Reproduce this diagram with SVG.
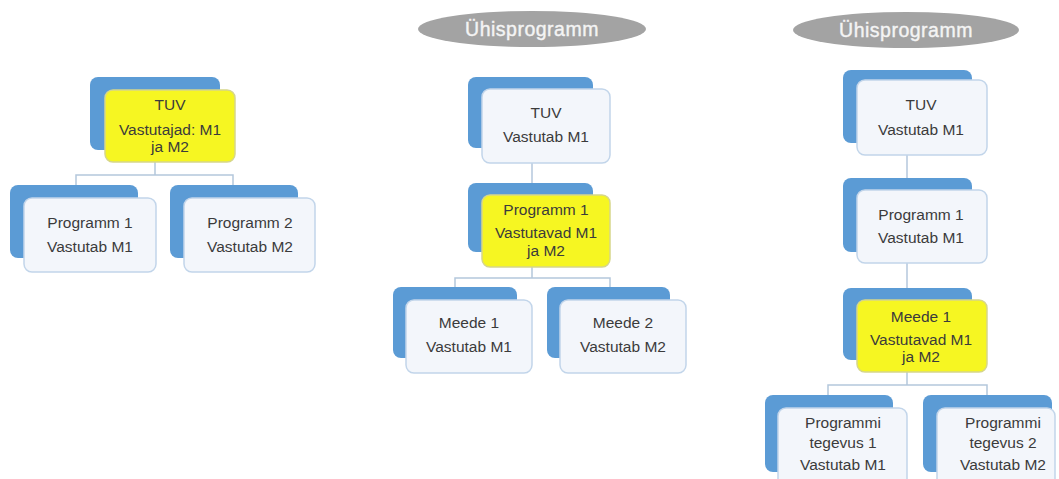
<svg xmlns="http://www.w3.org/2000/svg" width="1059" height="479" viewBox="0 0 1059 479">
  <style>
    .back { fill: #5b9bd5; }
    .front { fill: #f3f6fb; stroke: #c2d5ea; stroke-width: 1.5; }
    .hl { fill: #f6f622; stroke: #d6d68a; stroke-width: 1.5; }
    .lbl { font-family: "Liberation Sans", Arial, sans-serif; font-size: 15.5px; fill: #3b3b3b; text-anchor: middle; }
    .pill { fill: #a3a3a3; }
    .pilltxt { font-family: "Liberation Sans", Arial, sans-serif; font-size: 19.5px; fill: #f4f4f4; text-anchor: middle; letter-spacing: 0.5px; stroke: #f4f4f4; stroke-width: 0.4; }
    .conn { fill: none; stroke: #b4c7dc; stroke-width: 1.5; }
  </style>
  <rect width="1059" height="479" fill="#ffffff"/>

  <!-- connectors -->
  <g id="connectors">
    <path class="conn" d="M155 162 V175 M76 185 V175 H233 V185"/>
    <path class="conn" d="M532 163 V183"/>
    <path class="conn" d="M532 267 V278 M455 287 V278 H610 V287"/>
    <path class="conn" d="M907 155 V178"/>
    <path class="conn" d="M907 263 V288"/>
    <path class="conn" d="M907 372 V385 M828 395 V385 H987 V395"/>
  </g>

  <!-- left tree -->
  <g id="l-tuv">
    <rect class="back" x="90" y="77" width="130" height="73" rx="8"/>
    <rect class="hl" x="105" y="90" width="130" height="72" rx="8"/>
    <text class="lbl" x="170" y="110">TUV</text>
    <text class="lbl" x="170" y="135">Vastutajad: M1</text>
    <text class="lbl" x="170" y="152">ja M2</text>
  </g>
  <g id="l-prog1">
    <rect class="back" x="10" y="185" width="128" height="73" rx="8"/>
    <rect class="front" x="24" y="198" width="132" height="74" rx="8"/>
    <text class="lbl" x="90" y="228">Programm 1</text>
    <text class="lbl" x="90" y="252">Vastutab M1</text>
  </g>
  <g id="l-prog2">
    <rect class="back" x="170" y="185" width="128" height="73" rx="8"/>
    <rect class="front" x="184" y="198" width="131" height="74" rx="8"/>
    <text class="lbl" x="250" y="228">Programm 2</text>
    <text class="lbl" x="250" y="252">Vastutab M2</text>
  </g>

  <!-- middle tree -->
  <g id="m-header">
    <ellipse class="pill" cx="532" cy="29" rx="114" ry="18"/>
    <text class="pilltxt" x="532" y="36">Ühisprogramm</text>
  </g>
  <g id="m-tuv">
    <rect class="back" x="468" y="77" width="125" height="71" rx="8"/>
    <rect class="front" x="482" y="89" width="128" height="74" rx="8"/>
    <text class="lbl" x="546" y="118">TUV</text>
    <text class="lbl" x="546" y="142">Vastutab M1</text>
  </g>
  <g id="m-prog1">
    <rect class="back" x="468" y="183" width="125" height="69" rx="8"/>
    <rect class="hl" x="482" y="195" width="128" height="72" rx="8"/>
    <text class="lbl" x="546" y="215">Programm 1</text>
    <text class="lbl" x="546" y="238">Vastutavad M1</text>
    <text class="lbl" x="546" y="256">ja M2</text>
  </g>
  <g id="m-meede1">
    <rect class="back" x="393" y="287" width="124" height="71" rx="8"/>
    <rect class="front" x="406" y="300" width="126" height="73" rx="8"/>
    <text class="lbl" x="469" y="328">Meede 1</text>
    <text class="lbl" x="469" y="352">Vastutab M1</text>
  </g>
  <g id="m-meede2">
    <rect class="back" x="547" y="287" width="123" height="71" rx="8"/>
    <rect class="front" x="560" y="300" width="126" height="73" rx="8"/>
    <text class="lbl" x="623" y="328">Meede 2</text>
    <text class="lbl" x="623" y="352">Vastutab M2</text>
  </g>

  <!-- right tree -->
  <g id="r-header">
    <ellipse class="pill" cx="906" cy="30" rx="113" ry="18"/>
    <text class="pilltxt" x="906" y="37">Ühisprogramm</text>
  </g>
  <g id="r-tuv">
    <rect class="back" x="843" y="70" width="129" height="73" rx="8"/>
    <rect class="front" x="857" y="80" width="130" height="75" rx="8"/>
    <text class="lbl" x="921" y="110">TUV</text>
    <text class="lbl" x="921" y="135">Vastutab M1</text>
  </g>
  <g id="r-prog1">
    <rect class="back" x="843" y="178" width="129" height="74" rx="8"/>
    <rect class="front" x="857" y="190" width="130" height="73" rx="8"/>
    <text class="lbl" x="921" y="220">Programm 1</text>
    <text class="lbl" x="921" y="243">Vastutab M1</text>
  </g>
  <g id="r-meede1">
    <rect class="back" x="843" y="288" width="129" height="72" rx="8"/>
    <rect class="hl" x="857" y="300" width="130" height="72" rx="8"/>
    <text class="lbl" x="921" y="322">Meede 1</text>
    <text class="lbl" x="921" y="345">Vastutavad M1</text>
    <text class="lbl" x="921" y="362">ja M2</text>
  </g>
  <g id="r-tegevus1">
    <rect class="back" x="765" y="395" width="128" height="77" rx="8"/>
    <rect class="front" x="778" y="408" width="129" height="80" rx="8"/>
    <text class="lbl" x="843" y="428">Programmi</text>
    <text class="lbl" x="843" y="448">tegevus 1</text>
    <text class="lbl" x="843" y="470">Vastutab M1</text>
  </g>
  <g id="r-tegevus2">
    <rect class="back" x="923" y="395" width="129" height="77" rx="8"/>
    <rect class="front" x="937" y="408" width="118" height="80" rx="8"/>
    <text class="lbl" x="1003" y="428">Programmi</text>
    <text class="lbl" x="1003" y="448">tegevus 2</text>
    <text class="lbl" x="1003" y="470">Vastutab M2</text>
  </g>
</svg>
